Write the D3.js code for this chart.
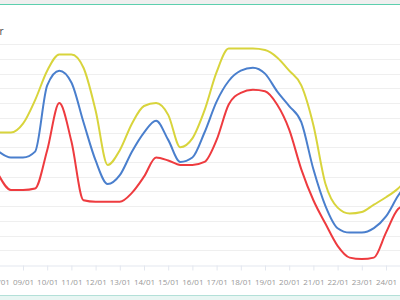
<!DOCTYPE html>
<html>
<head>
<meta charset="utf-8">
<script src="https://cdn.jsdelivr.net/npm/d3@7"></script>
<style>
html,body{margin:0;padding:0;background:#fff;}
svg{display:block;}
</style>
</head>
<body>
<svg id="chart" width="400" height="300"></svg>
<script>
// ---- data (half-day samples starting 08/01 00:00) ----
const startDate = new Date(2024, 0, 8);
const endDate = new Date(2024, 0, 25);
const lastTickDate = new Date(2024, 0, 24);
const seriesYellow = [90,90,96,112,132,143,143,134,105,68,78,96,108,110,102,80,86,105,131,147,147,147,146,141,132,122,95,55,39,35,36,41,46,52,61];
const seriesBlue   = [77,73,73,77,122,132,124,97,71,55,61,77,90,98,85,70,73,90,111,125,132,134,130,118,108,97,65,40,25,22,22,25,33,47,58];
const seriesRed    = [61,51,51,52,78,110,84,44,43,43,43,49,60,73,71,68,68,70,85,109,117,119,118,109,92,65,44,28,13,5,4,5,22,38,42];
const yTicks = [0,10,20,30,40,50,60,70,80,90,100,110,120,130,140,150];
const seriesColors = ["#d8d43c", "#4a7fcd", "#ee3b3f"];

const times = seriesYellow.map((_, i) => d3.timeHour.offset(startDate, 12 * i));

const svg = d3.select("#chart");
const W = 400, H = 300;

// frame bands
svg.append("rect").attr("x",0).attr("y",0).attr("width",W).attr("height",4).attr("fill","#efefef");
svg.append("line").attr("x1",0).attr("x2",W).attr("y1",4.5).attr("y2",4.5).attr("stroke","#5ccfae").attr("stroke-width",1);
svg.append("rect").attr("x",0).attr("y",295).attr("width",W).attr("height",5).attr("fill","#e8f6f3");
svg.append("line").attr("x1",0).attr("x2",W).attr("y1",295.5).attr("y2",295.5).attr("stroke","#b3e0d8").attr("stroke-width",1);

const x = d3.scaleTime().domain([startDate, endDate]).range([-1.2, 410.2]);
const y = d3.scaleLinear().domain([0, 150]).range([265, 44.2]);

// gridlines
svg.append("g").selectAll("line").data(yTicks.slice(1)).join("line")
  .attr("x1",0).attr("x2",W)
  .attr("y1",d=>Math.round(y(d))+0.5).attr("y2",d=>Math.round(y(d))+0.5)
  .attr("stroke","#efefef").attr("stroke-width",1);

// x axis
const tickDates = d3.timeDay.range(startDate, d3.timeDay.offset(lastTickDate, 1));
const xAxis = d3.axisBottom(x).tickValues(tickDates).tickFormat(d3.timeFormat("%d/%m")).tickSize(5).tickPadding(9);
const gx = svg.append("g").attr("transform",`translate(0,${Math.round(y(0))+0.5})`).call(xAxis);
gx.select(".domain").attr("stroke","#e3e7ef");
gx.selectAll(".tick line").attr("stroke","#e3e7ef");
gx.selectAll(".tick text").attr("fill","#999").attr("font-size","8px").attr("font-family","'Open Sans', sans-serif");

// partial label at top-left
svg.append("text").attr("x",3.5).attr("y",35).attr("text-anchor","end")
  .attr("font-family","'Open Sans', sans-serif").attr("font-size","10px").attr("fill","#444").text("Power");

// lines
const line = d3.line().x((d,i)=>x(times[i])).y(d=>y(d)).curve(d3.curveMonotoneX);
[seriesYellow, seriesBlue, seriesRed].forEach((s, i) => {
  svg.append("path").datum(s).attr("d", line)
    .attr("fill","none").attr("stroke",seriesColors[i]).attr("stroke-width",2)
    .attr("stroke-linejoin","round").attr("stroke-linecap","round");
});
</script>
</body>
</html>
